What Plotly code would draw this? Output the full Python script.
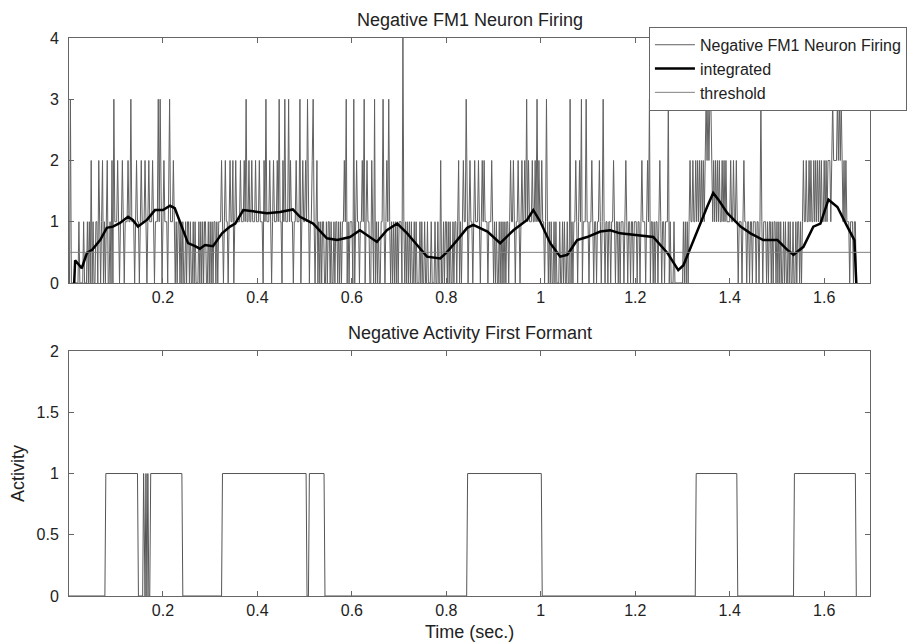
import plotly.graph_objects as go
from plotly.subplots import make_subplots

# firing counts, one sample every 2 ms from t = 0,
# one string per 0.1 s
dt = 0.002
firing_rows = [
    "00300000000100001000101020100110210120101200102031",  # 0.0
    "11210112101112113111012110121112101211121011131310",  # 0.1
    "12111023111210101101010010110100101000101010110010",  # 0.2
    "10101101011121012110121120121111211121311211211121",  # 0.3
    "11211102131112101211121311021311131211011211130121",  # 0.4
    "12131011231012010101100101101001011010101121301011",  # 0.5
    "10301211011213012110021030101001131012131010101010",  # 0.6
    "11104101010101001010001010010010001000100100200101",  # 0.7
    "10101001011012010121131012110121112101212111011121",  # 0.8
    "01010010101010110121121011210121121312111211213121",  # 0.9
    "12110131010100101000100101001003010112101213011131",  # 1.0
    "10112101101121013101101101121011010111012101101101",  # 1.1
    "11011012111012130110101101210110111301000100000000",  # 1.2
    "01010101211211212121212123232332121212121121212111",  # 1.3
    "12112112101110121101101101110110131011101011010110",  # 1.4
    "10101001010010100100101101012112112121121212121211",  # 1.5
    "212122212322223232321212111011101100",                # 1.6 - 1.67
]
firing = [int(c) for row in firing_rows for c in row]
firing_t = [i * dt for i in range(len(firing))]

# integrated (smoothed) firing
integ_t = [0.012, 0.014, 0.028, 0.039, 0.050, 0.067, 0.081, 0.094, 0.109, 0.126, 0.136,
           0.147, 0.166, 0.183, 0.200, 0.215, 0.225, 0.240, 0.253, 0.268, 0.278, 0.289,
           0.306, 0.325, 0.342, 0.353, 0.370, 0.391, 0.420, 0.448, 0.475, 0.490, 0.518,
           0.547, 0.569, 0.596, 0.617, 0.653, 0.674, 0.696, 0.717, 0.738, 0.759, 0.787,
           0.802, 0.823, 0.844, 0.857, 0.887, 0.914, 0.942, 0.971, 0.984, 0.999, 1.020,
           1.041, 1.056, 1.077, 1.098, 1.126, 1.147, 1.168, 1.204, 1.238, 1.268, 1.291,
           1.302, 1.331, 1.352, 1.365, 1.376, 1.395, 1.423, 1.444, 1.471, 1.501, 1.522,
           1.535, 1.556, 1.577, 1.592, 1.609, 1.628, 1.649, 1.664, 1.668]
integ_v = [0.00, 0.37, 0.24, 0.49, 0.54, 0.70, 0.90, 0.92, 0.98, 1.08, 1.03,
           0.92, 1.03, 1.19, 1.19, 1.26, 1.22, 0.92, 0.65, 0.60, 0.56, 0.62,
           0.60, 0.81, 0.92, 0.97, 1.19, 1.17, 1.14, 1.16, 1.20, 1.08, 0.97,
           0.73, 0.70, 0.75, 0.86, 0.67, 0.86, 0.97, 0.81, 0.62, 0.43, 0.40,
           0.51, 0.70, 0.90, 0.95, 0.84, 0.65, 0.86, 1.03, 1.19, 1.00, 0.65,
           0.43, 0.46, 0.70, 0.75, 0.84, 0.86, 0.81, 0.78, 0.75, 0.49, 0.21,
           0.29, 0.86, 1.24, 1.47, 1.36, 1.14, 0.92, 0.81, 0.70, 0.70, 0.54,
           0.46, 0.59, 0.92, 0.97, 1.36, 1.24, 0.92, 0.70, 0.00]

threshold = 0.5

# activity on/off times (bottom panel)
act_on = [0.077, 0.157, 0.162, 0.166, 0.172, 0.324, 0.508, 0.843, 1.327, 1.535]
act_off = [0.146, 0.159, 0.164, 0.168, 0.240, 0.503, 0.541, 1.001, 1.415, 1.666]

x_min, x_max = 0.001, 1.697
ramp = 0.002

act_t = [0.0]
act_v = [0]
for a, b in zip(act_on, act_off):
    act_t += [a, a + ramp, b, b + ramp]
    act_v += [0, 1, 1, 0]
act_t.append(act_off[-1] + ramp)
act_v.append(0)

fig = make_subplots(rows=2, cols=1)

fig.add_trace(go.Scatter(x=firing_t, y=firing, mode="lines", name="Negative FM1 Neuron Firing",
                         line=dict(color="#606060", width=1)), row=1, col=1)
fig.add_trace(go.Scatter(x=integ_t, y=integ_v, mode="lines", name="integrated",
                         line=dict(color="black", width=2.5)), row=1, col=1)
fig.add_trace(go.Scatter(x=[x_min, x_max], y=[threshold, threshold], mode="lines", name="threshold",
                         line=dict(color="#808080", width=1)), row=1, col=1)
fig.add_trace(go.Scatter(x=act_t, y=act_v, mode="lines", showlegend=False,
                         line=dict(color="#555555", width=1)), row=2, col=1)

tick_font = dict(family="Liberation Sans, Arial, sans-serif", size=16, color="#222")
label_font = dict(family="Liberation Sans, Arial, sans-serif", size=18, color="#222")
axis_style = dict(showline=True, linecolor="#666", linewidth=1, mirror="ticks",
                  ticks="inside", ticklen=5, tickcolor="#666", showgrid=False,
                  zeroline=False, tickfont=tick_font, automargin=False)

xt = [0.2, 0.4, 0.6, 0.8, 1.0, 1.2, 1.4, 1.6]
xl = ["0.2", "0.4", "0.6", "0.8", "1", "1.2", "1.4", "1.6"]

fig.update_xaxes(range=[x_min, x_max], tickvals=xt, ticktext=xl, **axis_style)
fig.update_yaxes(ticklabelstandoff=6, **axis_style)
fig.update_yaxes(range=[0, 4], tickvals=[0, 1, 2, 3, 4], row=1, col=1)
fig.update_yaxes(range=[0, 2], tickvals=[0, 0.5, 1, 1.5, 2], ticktext=["0", "0.5", "1", "1.5", "2"],
                 row=2, col=1, title=dict(text="Activity", font=label_font, standoff=11))

# the page body adds an 8px offset, so the figure is 8px smaller each way
fig.update_layout(
    width=915, height=634,
    margin=dict(l=61, r=53, t=30, b=46, autoexpand=False),
    paper_bgcolor="white", plot_bgcolor="white",
    font=tick_font,
    yaxis=dict(domain=[0.561, 1.0]),
    yaxis2=dict(domain=[0.0, 0.439]),
    legend=dict(x=0.724, y=1.02, xanchor="left", yanchor="top", bgcolor="white",
                bordercolor="#666", borderwidth=1, font=tick_font, itemwidth=40,
                tracegroupgap=0),
    annotations=[
        dict(text="Negative FM1 Neuron Firing", x=0.5, y=1.0, xref="paper", yref="paper",
             xanchor="center", yanchor="bottom", yshift=6, showarrow=False, font=label_font),
        dict(text="Negative Activity First Formant", x=0.5, y=0.439, xref="paper", yref="paper",
             xanchor="center", yanchor="bottom", yshift=6, showarrow=False, font=label_font),
        dict(text="Time (sec.)", x=0.5, y=-0.064, xref="paper", yref="paper",
             xanchor="center", yanchor="middle", showarrow=False, font=label_font),
    ],
)

fig.write_html("out.html")
